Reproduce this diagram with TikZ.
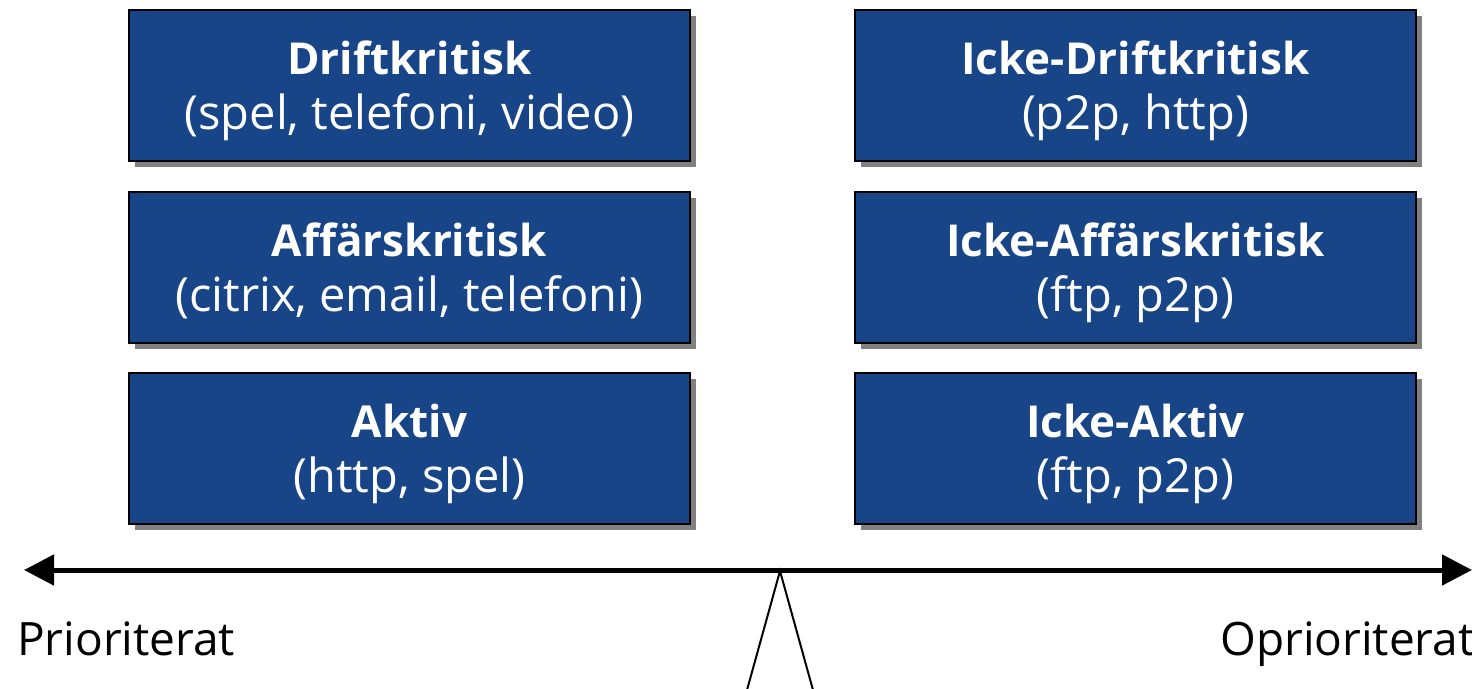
\documentclass[tikz,border=0pt]{standalone}
\usepackage{fontspec}
\setmainfont{Open Sans}
\usetikzlibrary{arrows.meta}
\definecolor{boxblue}{RGB}{23,69,135}
\definecolor{shadowgray}{RGB}{128,128,128}
\tikzset{
  catbox/.style={draw=black, line width=2pt, fill=boxblue, minimum width=561pt, minimum height=151pt,
    inner sep=0pt},
  shadowbox/.style={fill=shadowgray, minimum width=561pt, minimum height=151pt, inner sep=0pt},
  titletext/.style={text=white, anchor=base, inner sep=0pt, font=\fontsize{44}{50}\selectfont\bfseries},
  subtext/.style={text=white, anchor=base, inner sep=0pt, font=\fontsize{47}{54}\selectfont},
  axislabel/.style={font=\fontsize{46}{54}\selectfont, anchor=base west, inner sep=0pt}
}
\begin{document}
\begin{tikzpicture}[x=1pt,y=-1pt]
\useasboundingbox (0,0) rectangle (1472,688);
% shadows
\foreach \cx in {409.5,1135.5}{
  \foreach \cy in {85.5,267.5,448.5}{
    \node[shadowbox] at (\cx+6,\cy+6) {};
  }
}
\foreach \name/\cx/\cy/\title/\sub in {
  d1/409.5/85.5/Driftkritisk/{(spel, telefoni, video)},
  a1/409.5/267.5/Affärskritisk/{(citrix, email, telefoni)},
  k1/409.5/448.5/Aktiv/{(http, spel)},
  d2/1135.5/85.5/Icke-Driftkritisk/{(p2p, http)},
  a2/1135.5/267.5/Icke-Affärskritisk/{(ftp, p2p)},
  k2/1135.5/448.5/Icke-Aktiv/{(ftp, p2p)}}{
  \node[catbox] (\name) at (\cx,\cy) {};
  \node[titletext] (\name-t) at ([yshift=-65pt]\name.north) {\title};
  \node[subtext] (\name-s) at ([yshift=-120pt]\name.north) {\sub};
}
% axis
\coordinate (L) at (24,570);
\coordinate (R) at (1472,570);
\coordinate (apex) at (780,571);
\coordinate (fl) at (747,690);
\coordinate (fr) at (813,690);
\draw[line width=2pt] (fl) -- (apex) -- (fr);
\draw[line width=5pt, {Triangle[length=30pt,width=30pt]}-{Triangle[length=30pt,width=30pt]}] (L) -- (R);
\node[axislabel] (p) at (17,655) {Prioriterat};
\node[axislabel] (o) at (1220,655) {Oprioriterat};
\end{tikzpicture}
\end{document}
